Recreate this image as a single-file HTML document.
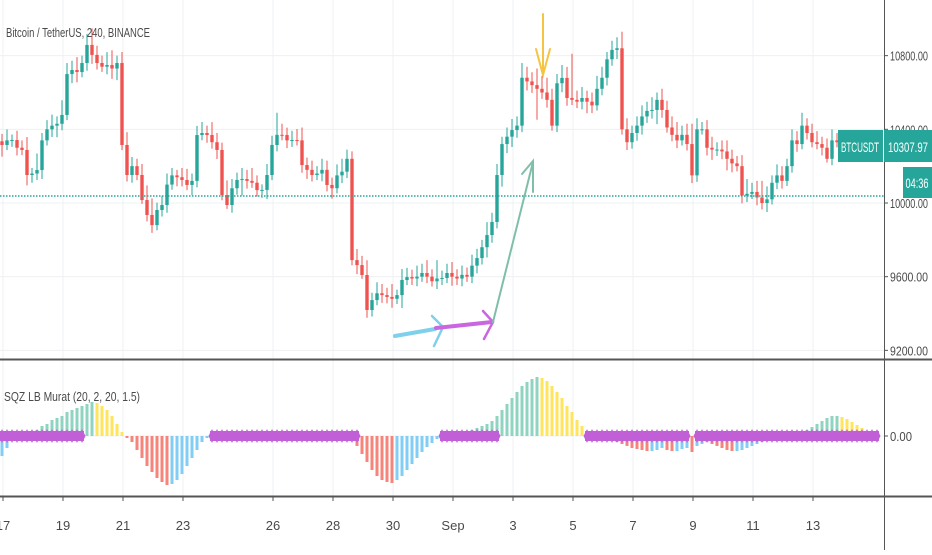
<!DOCTYPE html>
<html><head><meta charset="utf-8"><style>
html,body{margin:0;padding:0;background:#fff;}
body{width:932px;height:550px;overflow:hidden;font-family:"Liberation Sans",sans-serif;}
svg text{font-family:"Liberation Sans",sans-serif;}
</style></head><body>
<svg id="c" width="932" height="550" xmlns="http://www.w3.org/2000/svg">
<rect width="932" height="550" fill="#fff"/>
<g id="grid"></g>
<g id="candles"></g>
<g id="osc"></g>
<g id="sqz"></g>
<g id="axes"></g>
<line x1="0" y1="196" x2="884" y2="196" stroke="#26a69a" stroke-width="1.5" stroke-dasharray="1.5,1.5"/>
<g fill="none" stroke-linecap="round">
<line x1="395" y1="336" x2="435" y2="329" stroke="#7fd0ec" stroke-width="4"/>
<polyline points="432,316 443,327 434,346" stroke="#7fd0ec" stroke-width="2.5"/>
<line x1="436" y1="328" x2="492" y2="322" stroke="#c966e0" stroke-width="4"/>
<polyline points="483,311 493,322 484,339" stroke="#c966e0" stroke-width="2.5"/>
<line x1="493" y1="322" x2="533" y2="162" stroke="#7fbfaa" stroke-width="2"/>
<polyline points="522,174 533,161 533,192" stroke="#7fbfaa" stroke-width="2"/>
<line x1="543" y1="14" x2="543" y2="74" stroke="#f5c542" stroke-width="2"/>
<polyline points="536,49 543,75 550,49" stroke="#f5c542" stroke-width="2"/>
</g>
<text x="6" y="37" font-size="13" fill="#4a4a4a" textLength="144" lengthAdjust="spacingAndGlyphs">Bitcoin / TetherUS, 240, BINANCE</text>
<text x="4" y="401" font-size="13" fill="#4a4a4a" textLength="136" lengthAdjust="spacingAndGlyphs">SQZ LB Murat (20, 2, 20, 1.5)</text>
<g>
<rect x="838" y="130" width="45" height="32" fill="#26a69a"/>
<text x="860" y="152" font-size="14" fill="#fff" text-anchor="middle" textLength="38" lengthAdjust="spacingAndGlyphs">BTCUSDT</text>
<rect x="884" y="130" width="48" height="32" fill="#26a69a"/>
<text x="908" y="152" font-size="14" fill="#fff" text-anchor="middle" textLength="40" lengthAdjust="spacingAndGlyphs">10307.97</text>
<rect x="903" y="167" width="29" height="31" fill="#26a69a"/>
<text x="917" y="188" font-size="14" fill="#fff" text-anchor="middle" textLength="23" lengthAdjust="spacingAndGlyphs">04:36</text>
</g>
</svg>
<script>
const closes=[10315,10340,10342,10300,10288,10152,10160,10179,10340,10400,10420,10430,10478,10700,10722,10711,10760,10858,10804,10760,10740,10749,10730,10760,10315,10152,10200,10152,10016,9935,9880,9962,9989,10100,10150,10140,10125,10098,10120,10369,10380,10369,10330,10288,10043,9989,10080,10125,10130,10120,10110,10070,10071,10152,10315,10370,10369,10340,10342,10340,10206,10180,10152,10160,10180,10098,10080,10150,10170,10240,9690,9663,9609,9419,9473,9510,9500,9490,9480,9500,9582,9598,9590,9600,9620,9600,9575,9590,9593,9620,9600,9590,9610,9600,9660,9701,9760,9826,9897,10152,10320,10360,10396,10420,10680,10660,10640,10620,10600,10560,10420,10650,10679,10570,10560,10550,10570,10550,10530,10620,10680,10780,10831,10840,10400,10330,10380,10420,10470,10500,10505,10560,10505,10410,10370,10340,10370,10320,10150,10400,10400,10300,10290,10290,10280,10240,10215,10200,10040,10050,10060,10030,10000,10020,10110,10150,10120,10200,10340,10320,10420,10380,10330,10320,10300,10240,10340,10330,10308];
const wicks=[40,60,30,50,40,70,30,90,40,50,60,40,80,60,50,70,40,60,90,50,40,70,80,40,60,70,50,40,60,80,90,40,50,60,40,30,50,60,40,50,60,40,70,50,40,80,50,40,60,50,70,40,30,60,50,120,60,40,50,60,70,40,50,40,60,50,40,60,70,50,40,60,50,80,40,60,50,40,70,30,60,50,40,60,50,70,40,100,40,50,60,40,50,40,60,50,40,70,50,60,40,50,60,50,80,60,50,90,70,80,60,50,70,60,240,50,60,40,50,70,60,40,50,60,90,60,40,50,60,50,70,40,60,50,60,70,50,60,110,60,40,50,60,40,50,60,50,40,60,80,50,60,90,70,40,60,50,40,60,50,70,40,50,60,40,50,60,40,50,40];
const osc=[-20,-12,-4,-2,0,2,4,6,10,12,16,18,20,24,26,28,30,32,34,33,30,26,20,12,4,-2,-6,-14,-22,-30,-36,-42,-46,-49,-48,-44,-38,-30,-22,-14,-6,-2,0,1,2,2,3,2,1,0,0,1,2,2,1,0,-1,-2,-1,0,1,2,2,1,0,0,-1,-2,-2,-3,-4,-10,-18,-26,-34,-40,-44,-46,-47,-44,-40,-34,-28,-22,-16,-11,-7,-3,0,1,2,3,4,5,6,8,10,12,15,20,26,32,38,44,50,54,57,59,58,55,50,44,38,30,24,16,10,5,2,0,-2,-3,-4,-6,-8,-10,-12,-13,-14,-15,-15,-14,-12,-14,-15,-15,-13,-12,-16,-10,-8,-6,-8,-10,-12,-14,-15,-15,-14,-12,-10,-8,-6,-5,-4,-3,-2,-1,0,2,4,6,9,12,15,18,20,20,19,17,14,11,8,5,3,1];
const squeezeRanges=[[0,16],[42,71],[88,99],[117,137],[139,175]];
const priceTicks=[10800,10400,10000,9600,9200];
const dateLabels=["17","19","21","23","26","28","30","Sep","3","5","7","9","11","13"];
const dateDays=[0,2,4,6,9,11,13,15,17,19,21,23,25,27];

const NS="http://www.w3.org/2000/svg";
function mk(t,a,p){const e=document.createElementNS(NS,t);for(const k in a)e.setAttribute(k,a[k]);p.appendChild(e);return e;}
const xC=i=>2+5*i;
const xDay=d=>3+30*d;
const yP=p=>203-(p-10000)*0.1842;
const yO=v=>436-v*1.0;

const grid=document.getElementById('grid'),axes=document.getElementById('axes');
priceTicks.forEach(p=>{
  const l=mk('line',{x1:0,x2:884,y1:yP(p),y2:yP(p),stroke:'#eef0f3','stroke-width':1},grid);
  
  
  const t=mk('text',{x:890,y:yP(p)+5,'font-size':13,fill:'#4a4a4a',textLength:38,lengthAdjust:'spacingAndGlyphs'},axes);
  t.textContent=p.toFixed(2);
  
  
  mk('line',{x1:884,x2:888,y1:yP(p),y2:yP(p),stroke:'#555'},axes);
});
mk('line',{x1:0,x2:884,y1:yO(0),y2:yO(0),stroke:'#eef0f3'},grid);
dateDays.forEach((d,k)=>{
  const x=xDay(d);
  const l=mk('line',{x1:x,x2:x,y1:0,y2:496,stroke:'#eef0f3'},grid);
  
  
  mk('line',{x1:x,x2:x,y1:497,y2:501,stroke:'#555'},axes);
  const t=mk('text',{x:x,y:530,'font-size':13,fill:'#4a4a4a','text-anchor':'middle'},axes);
  t.textContent=dateLabels[k];
  
  
});
mk('line',{x1:884.5,x2:884.5,y1:0,y2:550,stroke:'#555','stroke-width':1},axes);
mk('line',{x1:0,x2:932,y1:359.5,y2:359.5,stroke:'#555','stroke-width':2},axes);
mk('line',{x1:0,x2:932,y1:496.5,y2:496.5,stroke:'#555','stroke-width':2},axes);
mk('line',{x1:884,x2:888,y1:yO(0),y2:yO(0),stroke:'#555'},axes);
const zt=mk('text',{x:890,y:yO(0)+5,'font-size':13,fill:'#4a4a4a',textLength:22,lengthAdjust:'spacingAndGlyphs'},axes);
zt.textContent='0.00';



const cg=document.getElementById('candles');
for(let i=0;i<closes.length;i++){
  const o=i?closes[i-1]:closes[0]+20,c=closes[i];
  const up=c>=o,col=up?'#26a69a':'#ef5350';
  const hi=Math.max(o,c)+wicks[i%wicks.length],lo=Math.min(o,c)-wicks[(i+7)%wicks.length]*0.7;
  const g=mk('g',{},cg);
  
  
  mk('line',{x1:xC(i),x2:xC(i),y1:yP(hi),y2:yP(lo),stroke:col,'stroke-width':1},g);
  const y1=yP(Math.max(o,c)),y2=yP(Math.min(o,c));
  mk('rect',{x:xC(i)-1.7,y:y1,width:3.4,height:Math.max(1,y2-y1),fill:col},g);
}

const og=document.getElementById('osc');
for(let i=0;i<osc.length;i++){
  const v=osc[i],pv=i?osc[i-1]:v;
  let col;
  if(v>=0)col=v>=pv?'#8fd3c1':'#ffe45c';else col=v<pv?'#f7847b':'#82cdf5';
  const r=mk('rect',{x:xC(i)-1.5,y:Math.min(yO(0),yO(v)),width:3,height:Math.abs(yO(v)-yO(0)),fill:col},og);
  
  
}
const sg=document.getElementById('sqz');
squeezeRanges.forEach(([a,b])=>{
  for(let i=a;i<=b;i++){
    const x=xC(i);
    const d=mk('polygon',{points:`${x-3.5},${yO(0)} ${x},${yO(0)-7} ${x+3.5},${yO(0)} ${x},${yO(0)+7}`,fill:'#c160d6'},sg);
    
    
  }
  mk('rect',{x:xC(a)-2,y:yO(0)-5,width:xC(b)-xC(a)+4,height:10,fill:'#c160d6'},sg);
});
</script>
</body></html>
